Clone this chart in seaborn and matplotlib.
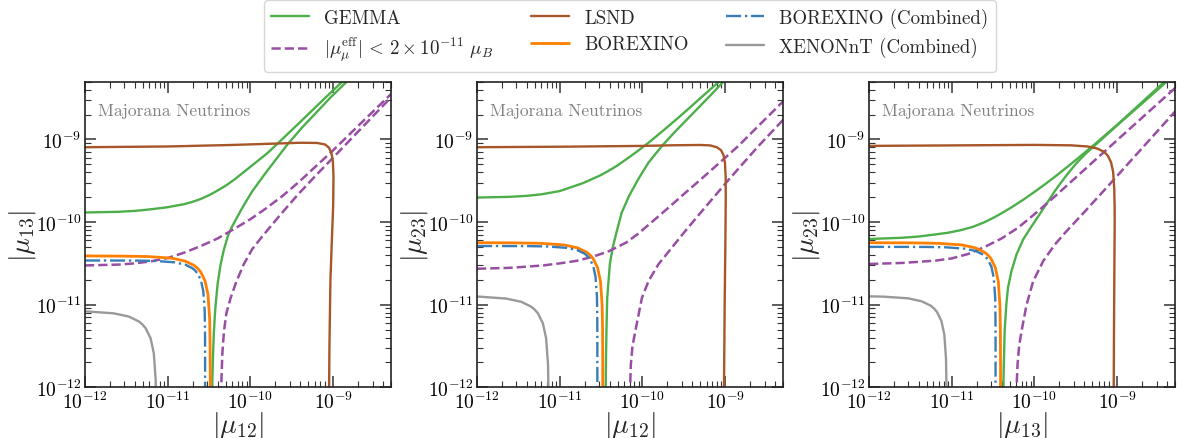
import numpy as np
import pandas as pd
import matplotlib
matplotlib.use('Agg')
import matplotlib.pyplot as plt
import seaborn as sns

# every curve is a list of (log10 x, log10 y) points

# panel 1: |mu12| vs |mu13|
p1_gemma_a = [(-12.0, -9.884), (-11.6, -9.876), (-11.4, -9.865), (-11.2, -9.845), (-11.0, -9.82),
              (-10.8, -9.783), (-10.7, -9.755), (-10.6, -9.72), (-10.5, -9.675), (-10.4, -9.62),
              (-10.3, -9.56), (-10.2, -9.49), (-10.1, -9.41), (-10.0, -9.33), (-9.9, -9.25),
              (-9.8, -9.17), (-9.68, -9.058), (-9.4, -8.79), (-9.1, -8.5), (-8.9, -8.31), (-8.8, -8.21)]
p1_gemma_b = [(-10.462, -12.1), (-10.46, -11.9), (-10.455, -11.7), (-10.443, -11.35), (-10.425, -11.05),
              (-10.397, -10.75), (-10.36, -10.51), (-10.32, -10.33), (-10.27, -10.16), (-10.225, -10.06),
              (-10.16, -9.94), (-10.1, -9.83), (-10.04, -9.73), (-9.98, -9.63), (-9.9, -9.52), (-9.82, -9.41),
              (-9.69, -9.24), (-9.56, -9.07), (-9.38, -8.86), (-9.2, -8.67), (-9.03, -8.49), (-8.856, -8.32),
              (-8.76, -8.22)]
p1_mueff_a = [(-12.0, -10.525), (-11.6, -10.515), (-11.4, -10.5), (-11.2, -10.475), (-11.0, -10.435),
              (-10.8, -10.37), (-10.6, -10.29), (-10.4, -10.2), (-10.2, -10.085), (-10.0, -9.965),
              (-9.82, -9.84), (-9.62, -9.69), (-9.42, -9.52), (-9.22, -9.335), (-9.02, -9.15),
              (-8.62, -8.76), (-8.3, -8.45)]
p1_mueff_b = [(-10.353, -12.1), (-10.35, -11.9), (-10.34, -11.6), (-10.32, -11.32), (-10.29, -11.1),
              (-10.24, -10.92), (-10.17, -10.72), (-10.08, -10.51), (-9.98, -10.33), (-9.862, -10.18),
              (-9.65, -9.925), (-9.42, -9.66), (-9.22, -9.447), (-9.02, -9.24), (-8.3, -8.49)]
p1_lsnd = [(-12.0, -9.094), (-11.0, -9.085), (-10.2, -9.066), (-9.7, -9.05), (-9.4, -9.04),
           (-9.2, -9.042), (-9.1, -9.06), (-9.05, -9.1), (-9.02, -9.17), (-9.003, -9.27),
           (-8.996, -9.45), (-9.0, -9.8), (-9.015, -10.2), (-9.033, -10.7), (-9.045, -11.5), (-9.05, -12.1)]
p1_borexino = [(-12.0, -10.41), (-11.546, -10.412), (-11.246, -10.417), (-10.952, -10.437), (-10.787, -10.473),
               (-10.678, -10.526), (-10.637, -10.561), (-10.602, -10.602), (-10.549, -10.711), (-10.513, -10.876),
               (-10.493, -11.17), (-10.488, -11.47), (-10.486, -11.867), (-10.486, -12.17)]
p1_borexino_comb = [(-12.0, -10.465), (-11.396, -10.466), (-11.156, -10.47), (-10.921, -10.487), (-10.789, -10.515),
                    (-10.702, -10.558), (-10.669, -10.586), (-10.641, -10.619), (-10.598, -10.706), (-10.57, -10.838),
                    (-10.553, -11.073), (-10.549, -11.313), (-10.548, -11.631), (-10.548, -11.871), (-10.548, -12.29)]
p1_xenon = [(-12.0, -11.082), (-11.974, -11.082), (-11.651, -11.105), (-11.469, -11.144), (-11.349, -11.203),
            (-11.304, -11.241), (-11.266, -11.286), (-11.207, -11.406), (-11.168, -11.588), (-11.145, -11.911),
            (-11.14, -12.241)]

# panel 2: |mu12| vs |mu23|
p2_gemma_a = [(-12.0, -9.703), (-11.618, -9.695), (-11.4, -9.683), (-11.215, -9.663), (-11.0, -9.625),
              (-10.81, -9.56), (-10.71, -9.525), (-10.61, -9.48), (-10.51, -9.435), (-10.41, -9.38),
              (-10.31, -9.32), (-10.21, -9.25), (-10.07, -9.15), (-9.927, -9.04), (-9.77, -8.91),
              (-9.605, -8.77), (-9.45, -8.635), (-9.3, -8.5), (-9.041, -8.27), (-8.95, -8.19)]
p2_gemma_b = [(-10.445, -12.1), (-10.443, -11.9), (-10.44, -11.6), (-10.435, -11.32), (-10.426, -10.92),
              (-10.394, -10.51), (-10.36, -10.31), (-10.31, -10.11), (-10.25, -9.884), (-10.16, -9.68),
              (-10.05, -9.48), (-9.927, -9.28), (-9.83, -9.16), (-9.746, -9.058), (-9.6, -8.9),
              (-9.444, -8.74), (-9.3, -8.592), (-9.162, -8.45), (-9.021, -8.3), (-8.93, -8.21)]
p2_mueff_a = [(-12.0, -10.565), (-11.6, -10.554), (-11.2, -10.525), (-11.0, -10.5), (-10.8, -10.47),
              (-10.6, -10.42), (-10.4, -10.35), (-10.2, -10.25), (-10.05, -10.14), (-9.846, -9.965),
              (-9.69, -9.83), (-9.524, -9.683), (-9.36, -9.54), (-9.2, -9.4), (-8.84, -9.078),
              (-8.558, -8.796), (-8.25, -8.49)]
p2_mueff_b = [(-10.148, -12.1), (-10.146, -11.9), (-10.14, -11.72), (-10.12, -11.5), (-10.086, -11.32),
              (-10.007, -10.92), (-9.927, -10.715), (-9.806, -10.51), (-9.645, -10.31), (-9.484, -10.11),
              (-9.283, -9.87), (-8.96, -9.49), (-8.598, -9.08), (-8.25, -8.71)]
p2_lsnd = [(-12.0, -9.094), (-11.0, -9.088), (-10.0, -9.078), (-9.6, -9.07), (-9.3, -9.067),
           (-9.18, -9.072), (-9.1, -9.095), (-9.05, -9.13), (-9.02, -9.19), (-9.003, -9.28),
           (-8.994, -9.45), (-8.993, -9.7), (-8.998, -10.3), (-9.006, -11.0), (-9.015, -12.1)]
p2_borexino = [(-12.0, -10.25), (-11.54, -10.252), (-11.24, -10.257), (-10.946, -10.277), (-10.781, -10.313),
               (-10.672, -10.366), (-10.631, -10.401), (-10.596, -10.442), (-10.543, -10.551), (-10.507, -10.716),
               (-10.487, -11.01), (-10.482, -11.31), (-10.48, -11.707), (-10.48, -12.31)]
p2_borexino_comb = [(-12.0, -10.29), (-11.393, -10.291), (-11.153, -10.295), (-10.918, -10.312), (-10.786, -10.34),
                    (-10.699, -10.383), (-10.666, -10.411), (-10.638, -10.444), (-10.595, -10.531), (-10.567, -10.663),
                    (-10.55, -10.898), (-10.546, -11.138), (-10.545, -11.456), (-10.545, -11.696), (-10.545, -12.115)]
p2_xenon = [(-12.0, -10.902), (-11.97, -10.903), (-11.647, -10.926), (-11.465, -10.965), (-11.345, -11.024),
            (-11.3, -11.062), (-11.262, -11.107), (-11.203, -11.227), (-11.164, -11.409), (-11.141, -11.732),
            (-11.136, -12.062), (-11.135, -12.3)]

# panel 3: |mu13| vs |mu23|
p3_gemma_a = [(-12.0, -10.205), (-11.6, -10.19), (-11.4, -10.175), (-11.2, -10.15), (-11.05, -10.13),
              (-10.9, -10.1), (-10.75, -10.06), (-10.6, -10.0), (-10.5, -9.95), (-10.4, -9.895),
              (-10.27, -9.817), (-10.13, -9.726), (-9.99, -9.628), (-9.86, -9.533), (-9.73, -9.434),
              (-9.59, -9.322), (-9.43, -9.191), (-9.27, -9.057), (-8.985, -8.809), (-8.46, -8.33),
              (-8.36, -8.24)]
p3_gemma_b = [(-10.376, -12.1), (-10.374, -11.9), (-10.37, -11.72), (-10.36, -11.32), (-10.34, -11.0),
              (-10.32, -10.795), (-10.277, -10.59), (-10.216, -10.39), (-10.136, -10.21), (-10.06, -10.09),
              (-9.914, -9.87), (-9.75, -9.62), (-9.67, -9.51), (-9.59, -9.405), (-9.49, -9.285),
              (-9.389, -9.18), (-9.29, -9.09), (-9.19, -9.0), (-8.945, -8.78), (-8.7, -8.565),
              (-8.44, -8.335), (-8.34, -8.245)]
p3_mueff_a = [(-12.0, -10.507), (-11.6, -10.495), (-11.2, -10.467), (-11.0, -10.44), (-10.8, -10.386),
              (-10.6, -10.3), (-10.4, -10.2), (-10.2, -10.07), (-9.994, -9.9), (-9.768, -9.703),
              (-9.5, -9.46), (-9.187, -9.177), (-8.784, -8.813), (-8.28, -8.36)]
p3_mueff_b = [(-10.216, -12.1), (-10.212, -11.9), (-10.204, -11.72), (-10.185, -11.5), (-10.156, -11.32),
              (-10.095, -11.0), (-10.015, -10.715), (-9.893, -10.47), (-9.752, -10.27), (-9.63, -10.13),
              (-9.389, -9.87), (-9.107, -9.56), (-8.784, -9.2), (-8.28, -8.64)]
p3_lsnd = [(-12.0, -9.078), (-11.0, -9.072), (-10.0, -9.066), (-9.562, -9.071), (-9.356, -9.085),
           (-9.241, -9.11), (-9.164, -9.147), (-9.136, -9.172), (-9.111, -9.2), (-9.074, -9.277),
           (-9.049, -9.392), (-9.035, -9.598), (-9.031, -9.808), (-9.03, -10.0), (-9.034, -10.6),
           (-9.039, -11.4), (-9.042, -12.1)]
p3_borexino = [(-12.0, -10.25), (-11.47, -10.252), (-11.17, -10.257), (-10.876, -10.277), (-10.711, -10.313),
               (-10.602, -10.366), (-10.561, -10.401), (-10.526, -10.442), (-10.473, -10.551), (-10.437, -10.716),
               (-10.417, -11.01), (-10.412, -11.31), (-10.41, -11.707), (-10.41, -12.31)]
p3_borexino_comb = [(-12.0, -10.3), (-11.318, -10.301), (-11.078, -10.305), (-10.843, -10.322), (-10.711, -10.35),
                    (-10.624, -10.393), (-10.591, -10.421), (-10.563, -10.454), (-10.52, -10.541), (-10.492, -10.673),
                    (-10.475, -10.908), (-10.471, -11.148), (-10.47, -11.466), (-10.47, -11.706), (-10.47, -12.125)]
p3_xenon = [(-12.0, -10.899), (-11.822, -10.903), (-11.528, -10.923), (-11.363, -10.959), (-11.254, -11.012),
            (-11.213, -11.047), (-11.178, -11.088), (-11.125, -11.197), (-11.089, -11.362), (-11.069, -11.656),
            (-11.064, -11.956), (-11.062, -12.353)]

legend_labels = ['GEMMA', r'$|\mu_\mu^{\rm eff}|\,<\,2\times 10^{-11}\ \mu_B$', 'LSND', 'BOREXINO',
                 'BOREXINO (Combined)', 'XENONnT (Combined)']
x_labels = [r'$|\mu_{12}|$', r'$|\mu_{12}|$', r'$|\mu_{13}|$']
y_labels = [r'$|\mu_{13}|$', r'$|\mu_{23}|$', r'$|\mu_{23}|$']

pal = sns.color_palette('Set1')
styles = {
    'gemma': dict(color=pal[2], linestyle='-', linewidth=1.7),
    'mueff': dict(color=pal[3], linestyle='--', linewidth=1.8),
    'lsnd': dict(color=pal[6], linestyle='-', linewidth=1.7),
    'bx': dict(color=pal[4], linestyle='-', linewidth=2.0),
    'bxc': dict(color=pal[1], linestyle='-.', linewidth=1.7),
    'xe': dict(color=pal[8], linestyle='-', linewidth=1.7),
}
order = ['gemma', 'mueff', 'lsnd', 'bx', 'bxc', 'xe']
label_of = dict(zip(order, legend_labels))

panels = [
    [('gemma', p1_gemma_a), ('gemma', p1_gemma_b), ('mueff', p1_mueff_a), ('mueff', p1_mueff_b),
     ('lsnd', p1_lsnd), ('bx', p1_borexino), ('bxc', p1_borexino_comb), ('xe', p1_xenon)],
    [('gemma', p2_gemma_a), ('gemma', p2_gemma_b), ('mueff', p2_mueff_a), ('mueff', p2_mueff_b),
     ('lsnd', p2_lsnd), ('bx', p2_borexino), ('bxc', p2_borexino_comb), ('xe', p2_xenon)],
    [('gemma', p3_gemma_a), ('gemma', p3_gemma_b), ('mueff', p3_mueff_a), ('mueff', p3_mueff_b),
     ('lsnd', p3_lsnd), ('bx', p3_borexino), ('bxc', p3_borexino_comb), ('xe', p3_xenon)],
]


def to_frame(points):
    arr = np.array(points)
    return pd.DataFrame({'x': 10.0 ** arr[:, 0], 'y': 10.0 ** arr[:, 1]})


sns.set_style('ticks')
plt.rcParams['font.family'] = 'serif'
plt.rcParams['font.serif'] = ['cmr10']
plt.rcParams['mathtext.fontset'] = 'cm'
plt.rcParams['axes.formatter.use_mathtext'] = True
plt.rcParams['axes.unicode_minus'] = False

fig, axes = plt.subplots(1, 3, figsize=(11.77, 4.39), dpi=100)
plt.subplots_adjust(left=0.0722, right=0.9983, bottom=0.1155, top=0.8116, wspace=0.281)

handles = {}
for i, ax in enumerate(axes):
    ax.set_xscale('log')
    ax.set_yscale('log')
    for key, pts in panels[i]:
        sns.lineplot(data=to_frame(pts), x='x', y='y', sort=False, estimator=None,
                     legend=False, ax=ax, **styles[key])
        if i == 0 and key not in handles:
            handles[key] = ax.lines[-1]
    ax.set_xlim(1e-12, 5e-9)
    ax.set_ylim(1e-12, 5e-9)
    ax.set_xlabel(x_labels[i], fontsize=20, labelpad=-2)
    ax.set_ylabel(y_labels[i], fontsize=20, labelpad=-2)
    ax.tick_params(which='both', direction='in', top=True, right=True, colors='#333333')
    ax.tick_params(which='major', length=8, width=1.1, labelsize=14, pad=2.5, labelcolor='black')
    ax.tick_params(which='minor', length=4, width=0.8)
    for sp in ax.spines.values():
        sp.set_linewidth(1.2)
        sp.set_color('#222222')
    ax.text(0.042, 0.89, 'Majorana Neutrinos', transform=ax.transAxes, fontsize=12.5,
            color='gray', ha='left', va='baseline')

axes[1].legend([handles[k] for k in order], [label_of[k] for k in order],
               loc='lower center', bbox_to_anchor=(0.5, 1.032), ncol=3, fontsize=13.6,
               labelspacing=0.45, frameon=True, edgecolor='#cccccc', fancybox=True,
               borderaxespad=0.0)

fig.savefig('out.png', dpi=100)
